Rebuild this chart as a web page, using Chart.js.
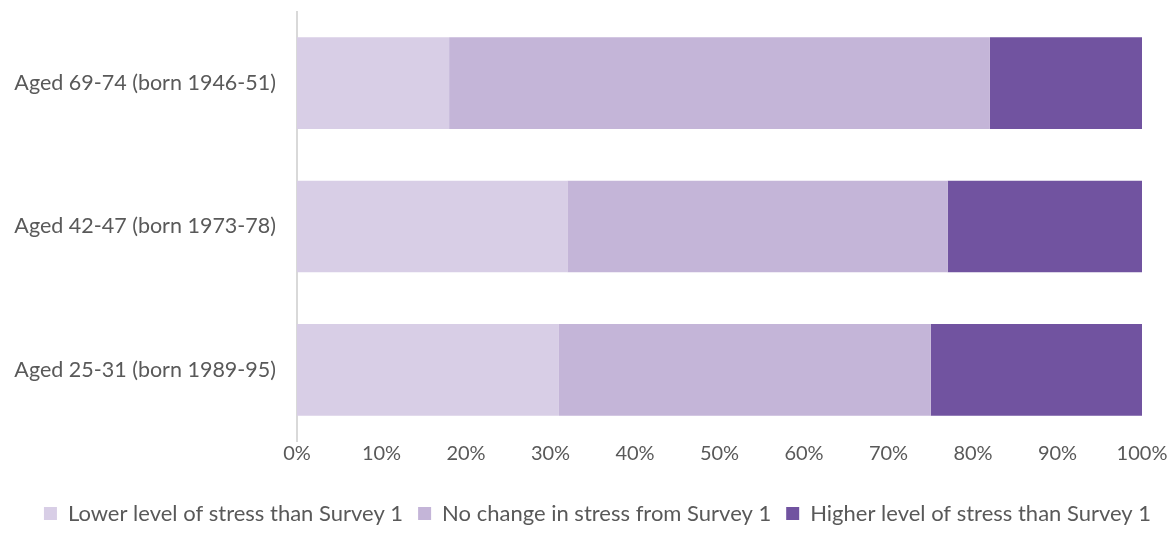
<!DOCTYPE html>
<html><head><meta charset="utf-8">
<script src="https://cdn.jsdelivr.net/npm/chart.js@4"></script>
<style>html,body{margin:0;padding:0;background:#fff}#wrap{width:1176px;height:554px;position:relative}</style>
</head><body><div id="wrap"><canvas id="c" width="1176" height="554"></canvas></div>
<script>
const categories = ["Aged 69-74 (born 1946-51)", "Aged 42-47 (born 1973-78)", "Aged 25-31 (born 1989-95)"];
const seriesNames = ["Lower level of stress than Survey 1", "No change in stress from Survey 1", "Higher level of stress than Survey 1"];
const lowerVals = [18, 32, 31];
const noChangeVals = [64, 45, 44];
const higherVals = [18, 23, 25];
const tickValues = [0,10,20,30,40,50,60,70,80,90,100];
const colors = ["#D8CEE6", "#C4B5D8", "#7153A0"];

const fam = "Lato, 'Open Sans', sans-serif";
const legendShift = {
  id: 'legendShift',
  afterLayout(chart) { chart.legend.left += 11; chart.legend.right += 11; }
};
new Chart(document.getElementById('c'), {
  type: 'bar',
  data: {
    labels: categories,
    datasets: [lowerVals, noChangeVals, higherVals].map((d, i) => ({
      label: seriesNames[i], data: d, backgroundColor: colors[i],
      borderWidth: 0, categoryPercentage: 0.64, barPercentage: 1.0
    }))
  },
  plugins: [legendShift],
  options: {
    indexAxis: 'y', responsive: false, animation: false,
    layout: {padding: {left: 10, right: 13, top: 11.5, bottom: 19.5}},
    plugins: {
      legend: {position: 'bottom', labels: {font: {family: fam, size: 22}, color: '#595959', boxWidth: 13, boxHeight: 13, padding: 15}},
      tooltip: {enabled: false}
    },
    scales: {
      x: {stacked: true, min: 0, max: 100,
        afterBuildTicks: (s) => { s.ticks = tickValues.map(v => ({value: v})); },
        afterFit: (s) => { s.height = 46; s.paddingRight = 34; s.paddingLeft = 0; },
        ticks: {font: {family: fam, size: 20}, color: '#595959', callback: v => v + '%', padding: 0, maxRotation: 0},
        grid: {display: false, drawTicks: false}, border: {display: false}},
      y: {stacked: true,
        afterFit: (s) => { s.width = 287; s.paddingTop = 0; s.paddingBottom = 0; },
        ticks: {font: {family: fam, size: 21.5}, color: '#595959', padding: 21},
        grid: {display: false, drawTicks: false}, border: {display: true, color: '#D9D9D9', width: 2}}
    }
  }
});
</script></body></html>
